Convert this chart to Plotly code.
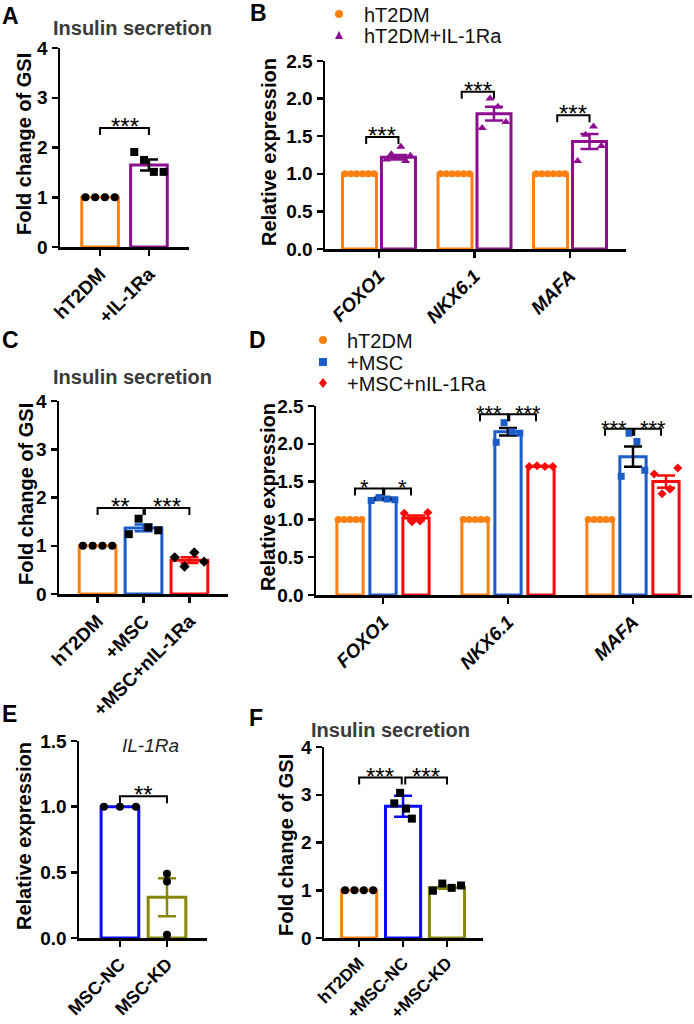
import numpy as np
import plotly.graph_objects as go

W, H = 694, 1024
FONT = "Liberation Sans, Arial, sans-serif"

ORANGE = "#FF8012"
PURPLE = "#8E0E90"
BLUE = "#1B5CC8"
BBLUE = "#0A0AF8"
RED = "#F80A0A"
OLIVE = "#878709"
BLACK = "#000000"

# ---------------- data ----------------
# A
a_groups = ["hT2DM", "+IL-1Ra"]
a_mean = [1.00, 1.65]
a_sem = [0.00, 0.11]
a_points = [[1.00, 1.00, 1.00, 1.00], [1.91, 1.75, 1.51, 1.51]]
a_sig = ["***"]
a_sig_y = [2.39]

# B
b_genes = ["FOXO1", "NKX6.1", "MAFA"]
b_series = ["hT2DM", "hT2DM+IL-1Ra"]
b_ctrl_mean = [1.00, 1.00, 1.00]
b_ctrl_points = [[1.00, 1.00, 1.00, 1.00, 1.00, 1.00],
                 [1.00, 1.00, 1.00, 1.00, 1.00, 1.00],
                 [1.00, 1.00, 1.00, 1.00, 1.00, 1.00]]
b_trt_mean = [1.22, 1.80, 1.43]
b_trt_sem = [0.03, 0.09, 0.10]
b_trt_points = [[1.19, 1.26, 1.21, 1.36, 1.17, 1.24],
                [1.61, 2.00, 1.89, 1.69],
                [1.17, 1.52, 1.63, 1.37]]
b_sig = ["***", "***", "***"]
b_sig_y = [1.49, 2.09, 1.78]

# C
c_groups = ["hT2DM", "+MSC", "+MSC+nIL-1Ra"]
c_mean = [1.00, 1.37, 0.70]
c_sem = [0.00, 0.07, 0.06]
c_points = [[1.00, 1.00, 1.00, 1.00], [1.24, 1.56, 1.38, 1.32], [0.76, 0.57, 0.86, 0.67]]
c_sig = ["**", "***"]
c_sig_y = [1.78, 1.78]

# D
d_genes = ["FOXO1", "NKX6.1", "MAFA"]
d_series = ["hT2DM", "+MSC", "+MSC+nIL-1Ra"]
d_means = [[1.00, 1.00, 1.00], [1.27, 2.16, 1.83], [1.02, 1.70, 1.50]]
d_sems = [[0.00, 0.00, 0.00], [0.015, 0.05, 0.135], [0.03, 0.005, 0.08]]
d_points = [
    [[1.00] * 5, [1.00] * 5, [1.00] * 5],
    [[1.25, 1.29, 1.27, 1.26], [2.02, 2.28, 2.16, 2.14], [1.57, 2.14, 2.03, 1.65]],
    [[1.08, 0.97, 0.98, 1.09], [1.70, 1.71, 1.70, 1.70], [1.60, 1.34, 1.40, 1.68]],
]
d_sig = [["*", "*"], ["***", "***"], ["***", "***"]]
d_sig_y = [1.41, 2.39, 2.20]

# E
e_groups = ["MSC-NC", "MSC-KD"]
e_mean = [1.00, 0.31]
e_sem = [0.00, 0.145]
e_points = [[1.00, 1.00, 1.00], [0.43, 0.49, 0.025]]
e_sig = ["**"]
e_sig_y = [1.08]

# F
f_groups = ["hT2DM", "+MSC-NC", "+MSC-KD"]
f_mean = [1.00, 2.76, 1.06]
f_sem = [0.00, 0.22, 0.03]
f_points = [[1.00, 1.00, 1.00, 1.00], [2.82, 3.04, 2.71, 2.50], [0.99, 1.14, 1.05, 1.10]]
f_sig = ["***", "***"]
f_sig_y = [3.36, 3.36]

# ---------------- helpers ----------------
fig = go.Figure()
layout = {}
shapes = []
annotations = []


def ax_names(k):
    s = "" if k == 1 else str(k)
    return "x" + s, "y" + s, "xaxis" + s, "yaxis" + s


def setup_axes(k, xpx, ypx, xr, yr, yticks, yfmt, ticktext, italic=False, xfont=19):
    xr_, yr_, xa, ya = ax_names(k)
    common = dict(showline=True, linecolor=BLACK, linewidth=2.5, ticks="outside",
                  ticklen=6, tickwidth=2.5, tickcolor=BLACK, showgrid=False,
                  zeroline=False, fixedrange=True, automargin=False)
    layout[xa] = dict(common, domain=[xpx[0] / W, xpx[1] / W], range=list(xr),
                      anchor=yr_, tickmode="array",
                      tickvals=list(range(len(ticktext))), ticktext=ticktext,
                      tickangle=-45,
                      tickfont=dict(family=FONT, size=xfont, color=BLACK, weight="bold",
                                    style="italic" if italic else "normal"))
    layout[ya] = dict(common, domain=[1 - ypx[1] / H, 1 - ypx[0] / H], range=list(yr),
                      anchor=xr_, tickmode="array", tickvals=yticks,
                      ticktext=[format(v, yfmt) for v in yticks],
                      tickfont=dict(family=FONT, size=19, color=BLACK, weight="bold"))
    return xr_, yr_


def add_bar(k, pos, mean, sem, color, bw, errcolor):
    xr_, yr_, _, _ = ax_names(k)
    err = None
    if sem > 0:
        err = dict(type="data", array=[sem], visible=True, color=errcolor,
                   thickness=2.5, width=9)
    fig.add_trace(go.Bar(x=[pos], y=[mean], width=[bw], xaxis=xr_, yaxis=yr_,
                         marker=dict(color="white", line=dict(color=color, width=3)),
                         error_y=err, showlegend=False, hoverinfo="skip"))


def add_points(k, pos, vals, bw, symbol, color, size=8, spread=0.8):
    xr_, yr_, _, _ = ax_names(k)
    n = len(vals)
    offs = np.linspace(-1, 1, n) * spread * bw / 2 if n > 1 else np.zeros(1)
    fig.add_trace(go.Scatter(x=list(pos + offs), y=vals, mode="markers",
                             xaxis=xr_, yaxis=yr_, cliponaxis=False,
                             marker=dict(symbol=symbol, size=size, color=color,
                                         line=dict(width=0)),
                             showlegend=False, hoverinfo="skip"))


def add_bracket(k, x0, x1, y, text, ypx_h, yr, star_size=24, xshift=0):
    xr_, yr_, _, _ = ax_names(k)
    tick = 7 * (yr[1] - yr[0]) / ypx_h
    shapes.append(dict(type="path", xref=xr_, yref=yr_,
                       path=f"M {x0},{y - tick} L {x0},{y} L {x1},{y} L {x1},{y - tick}",
                       line=dict(color=BLACK, width=2)))
    annotations.append(dict(x=(x0 + x1) / 2, y=y, xref=xr_, yref=yr_, text=text,
                            showarrow=False, yanchor="bottom", yshift=-14,
                            xshift=xshift,
                            font=dict(family=FONT, size=star_size, color=BLACK)))


def paper_text(px, py, text, size, bold=True, color=BLACK, angle=0, italic=False,
               xanchor="center"):
    annotations.append(dict(x=px / W, y=1 - py / H, xref="paper", yref="paper",
                            text=text, showarrow=False, textangle=angle,
                            xanchor=xanchor, yanchor="middle",
                            font=dict(family=FONT, size=size, color=color,
                                      weight="bold" if bold else "normal",
                                      style="italic" if italic else "normal")))


def legend_marker(px, py, kind, color, r=4):
    base = dict(xref="paper", yref="paper", xsizemode="pixel", ysizemode="pixel",
                xanchor=px / W, yanchor=1 - py / H, fillcolor=color,
                line=dict(width=0))
    if kind == "circle":
        shapes.append(dict(base, type="circle", x0=-r, x1=r, y0=-r, y1=r))
    elif kind == "square":
        shapes.append(dict(base, type="rect", x0=-r, x1=r, y0=-r, y1=r))
    elif kind == "triangle":
        shapes.append(dict(base, type="path", path=f"M {-r},{-r} L {r},{-r} L 0,{r} Z"))
    elif kind == "diamond":
        shapes.append(dict(base, type="path",
                           path=f"M 0,{-r - 1} L {r},0 L 0,{r + 1} L {-r},0 Z"))


# ---------------- panel A ----------------
A_X, A_Y, A_YR = (60, 189), (48, 247), (0, 4)
setup_axes(1, A_X, A_Y, (-0.82, 1.82), A_YR, [0, 1, 2, 3, 4], "d", a_groups)
bw = 0.75
a_cols = [ORANGE, PURPLE]
a_sym = ["circle", "square"]
for i in range(2):
    add_bar(1, i, a_mean[i], a_sem[i], a_cols[i], bw, BLACK)
    add_points(1, i, a_points[i], bw, a_sym[i], BLACK, size=8)
add_bracket(1, 0, 1, a_sig_y[0], a_sig[0], A_Y[1] - A_Y[0], A_YR)
paper_text(132, 28, "Insulin secretion", 20, color="#3A3A3A")
paper_text(24, 144, "Fold change of GSI", 20, angle=-90)
paper_text(10, 16, "A", 23)

# ---------------- panel B ----------------
B_X, B_Y, B_YR = (325, 626), (61, 249), (0, 2.5)
setup_axes(2, B_X, B_Y, (-0.565, 2.586), B_YR, [0, 0.5, 1.0, 1.5, 2.0, 2.5], ".1f",
           b_genes, italic=True)
bw, off = 0.356, 0.204
for g in range(3):
    add_bar(2, g - off, b_ctrl_mean[g], 0, ORANGE, bw, ORANGE)
    add_points(2, g - off, b_ctrl_points[g], bw, "circle", ORANGE, size=7, spread=0.85)
    add_bar(2, g + off, b_trt_mean[g], b_trt_sem[g], PURPLE, bw, PURPLE)
    add_points(2, g + off, b_trt_points[g], bw, "triangle-up", PURPLE, size=8, spread=0.7)
    add_bracket(2, g - off + 0.07, g + off, b_sig_y[g], b_sig[g], B_Y[1] - B_Y[0], B_YR)
paper_text(269, 152, "Relative expression", 20, angle=-90)
paper_text(258, 13, "B", 23)
legend_marker(339, 14, "circle", ORANGE)
legend_marker(339, 35, "triangle", PURPLE)
paper_text(362, 15, b_series[0], 20, bold=False, xanchor="left", color="#111111")
paper_text(362, 36, b_series[1], 20, bold=False, xanchor="left", color="#111111")

# ---------------- panel C ----------------
C_X, C_Y, C_YR = (59, 228), (401, 594), (0, 4)
setup_axes(3, C_X, C_Y, (-0.84, 2.84), C_YR, [0, 1, 2, 3, 4], "d", c_groups)
bw = 0.8
c_cols = [ORANGE, BLUE, RED]
c_sym = ["circle", "square", "diamond"]
for i in range(3):
    add_bar(3, i, c_mean[i], c_sem[i], c_cols[i], bw, c_cols[i])
    add_points(3, i, c_points[i], bw, c_sym[i], BLACK, size=8)
add_bracket(3, 0, 1, c_sig_y[0], c_sig[0], C_Y[1] - C_Y[0], C_YR)
add_bracket(3, 1.03, 2, c_sig_y[1], c_sig[1], C_Y[1] - C_Y[0], C_YR)
paper_text(132, 377, "Insulin secretion", 20, color="#3A3A3A")
paper_text(26, 494, "Fold change of GSI", 20, angle=-90)
paper_text(10, 340, "C", 23)

# ---------------- panel D ----------------
D_X, D_Y, D_YR = (316, 692), (406, 595), (0, 2.5)
setup_axes(4, D_X, D_Y, (-0.536, 2.472), D_YR, [0, 0.5, 1.0, 1.5, 2.0, 2.5], ".1f",
           d_genes, italic=True)
bw, off = 0.21, 0.264
d_cols = [ORANGE, BLUE, RED]
d_err = [ORANGE, BLACK, RED]
d_sym = ["circle", "square", "diamond"]
for g in range(3):
    for s in range(3):
        pos = g + (s - 1) * off
        add_bar(4, pos, d_means[s][g], d_sems[s][g], d_cols[s], bw, d_err[s])
        add_points(4, pos, d_points[s][g], bw, d_sym[s], d_cols[s], size=7, spread=0.9)
    add_bracket(4, g - off + 0.04, g, d_sig_y[g], d_sig[g][0], D_Y[1] - D_Y[0], D_YR,
                star_size=22, xshift=-5)
    add_bracket(4, g + 0.01, g + off - 0.04, d_sig_y[g], d_sig[g][1], D_Y[1] - D_Y[0],
                D_YR, star_size=22, xshift=5)
paper_text(268, 497, "Relative expression", 20, angle=-90)
paper_text(257, 340, "D", 23)
legend_marker(323, 340, "circle", ORANGE)
legend_marker(323, 362, "square", BLUE)
legend_marker(323, 383, "diamond", RED)
for j in range(3):
    paper_text(345, [341, 363, 384][j], d_series[j], 20, bold=False, xanchor="left",
               color="#111111")

# ---------------- panel E ----------------
E_X, E_Y, E_YR = (79, 207), (741, 938), (0, 1.5)
setup_axes(5, E_X, E_Y, (-0.87, 1.85), E_YR, [0, 0.5, 1.0, 1.5], ".1f", e_groups,
           xfont=18)
bw = 0.8
e_cols = [BBLUE, OLIVE]
for i in range(2):
    add_bar(5, i, e_mean[i], e_sem[i], e_cols[i], bw, e_cols[i])
    pts_spread = 0.85 if i == 0 else 0.0
    add_points(5, i, e_points[i], bw, "circle", BLACK, size=8, spread=pts_spread)
add_bracket(5, 0, 1, e_sig_y[0], e_sig[0], E_Y[1] - E_Y[0], E_YR)
paper_text(150, 745, "IL-1Ra", 19, bold=False, italic=True, color="#222222")
paper_text(24, 836, "Relative expression", 20, angle=-90)
paper_text(9, 714, "E", 23)

# ---------------- panel F ----------------
F_X, F_Y, F_YR = (324, 483), (747, 938), (0, 4)
setup_axes(6, F_X, F_Y, (-0.8, 2.82), F_YR, [0, 1, 2, 3, 4], "d", f_groups, xfont=17)
bw = 0.8
f_cols = [ORANGE, BBLUE, OLIVE]
f_sym = ["circle", "square", "square"]
for i in range(3):
    add_bar(6, i, f_mean[i], f_sem[i], f_cols[i], bw, f_cols[i])
    add_points(6, i, f_points[i], bw, f_sym[i], BLACK, size=8, spread=0.8 if i != 1 else 0.5)
add_bracket(6, 0, 0.97, f_sig_y[0], f_sig[0], F_Y[1] - F_Y[0], F_YR)
add_bracket(6, 1.05, 2.0, f_sig_y[1], f_sig[1], F_Y[1] - F_Y[0], F_YR)
paper_text(390, 730, "Insulin secretion", 20, color="#3A3A3A")
paper_text(286, 845, "Fold change of GSI", 20, angle=-90)
paper_text(256, 718, "F", 23)

fig.update_layout(
    template="none",
    width=W, height=H, margin=dict(l=0, r=0, t=0, b=0, autoexpand=False),
    paper_bgcolor="white", plot_bgcolor="white", barmode="overlay",
    showlegend=False, font=dict(family=FONT, color=BLACK),
    shapes=shapes, annotations=annotations, **layout)

fig.write_html("out.html", config={"displayModeBar": False, "staticPlot": True},
               post_script="document.body.style.margin='0px';"
                           "document.body.style.overflow='hidden';")
